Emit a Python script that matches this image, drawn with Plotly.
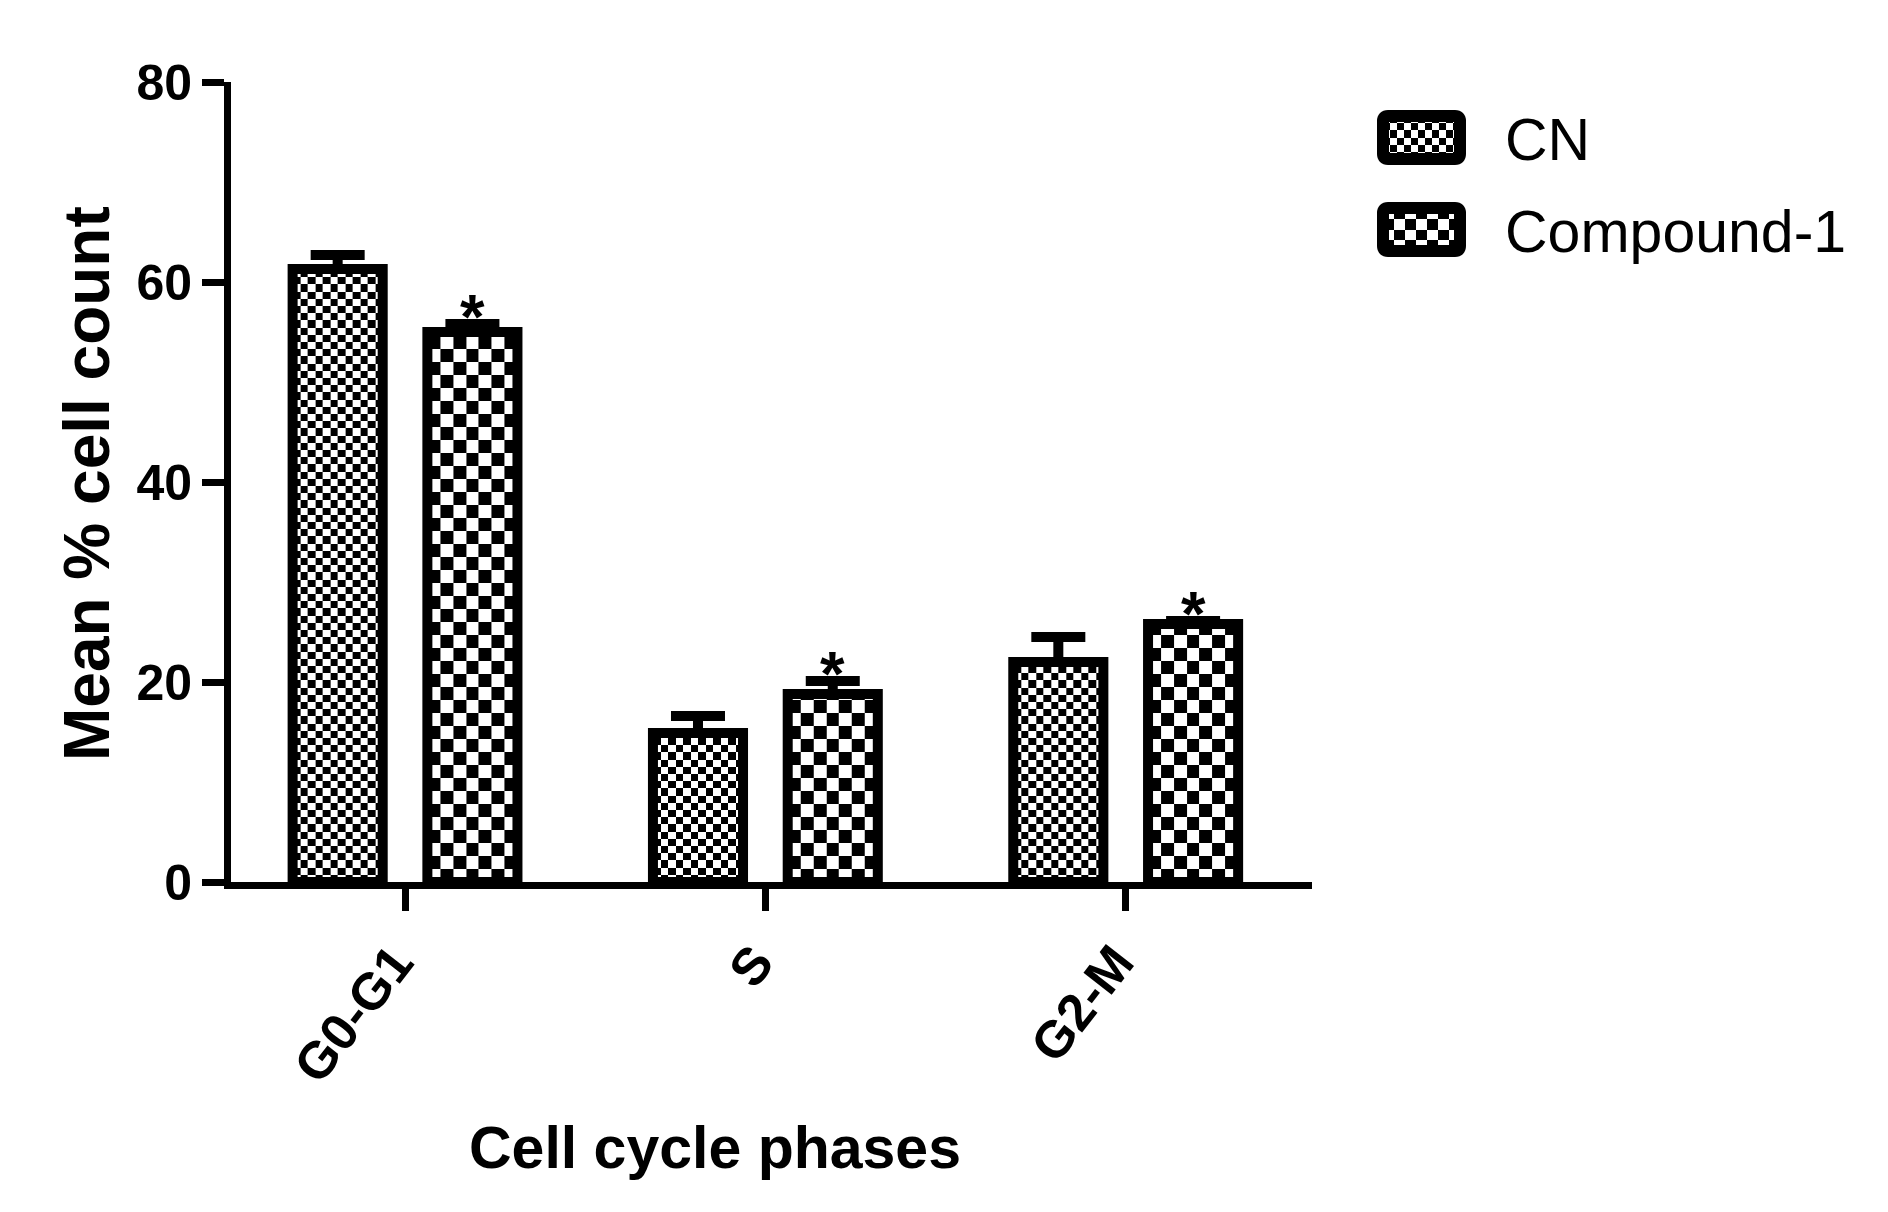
import numpy as np
import plotly.graph_objects as go

# ---------------- data ----------------
phases = ["G0-G1", "S", "G2-M"]
series_names = ["CN", "Compound-1"]
cn_mean = [61.3, 14.9, 22.0]
cn_err = [1.4, 1.7, 2.5]
cmp_mean = [55.0, 18.8, 25.8]
cmp_err = [0.8, 1.3, 0.3]
cmp_signif = ["*", "*", "*"]
y_tick_vals = [0, 20, 40, 60, 80]
x_title = "Cell cycle phases"
y_title = "Mean % cell count"

# ---------------- style / layout ----------------
W, H = 1888, 1212
PX_L, PX_R = 223, 1304
PX_T, PX_B = 74, 874
FONT = "Liberation Sans, Arial, sans-serif"
BAR_W = 0.25
BAR_OFF = 0.187
CELL_CN = (0.0205, 0.72)
CELL_CMP = (0.0357, 1.3)
LINE_W = 10


def checker(x0, x1, ytop, cw, ch):
    nx = max(1, int(round((x1 - x0) / cw)))
    xe = np.linspace(x0, x1, nx + 1)
    ye = list(np.arange(0, ytop, ch))
    if ytop - ye[-1] > 1e-9:
        ye.append(ytop)
    ny = len(ye) - 1
    z = [[(i + j) % 2 for i in range(nx)] for j in range(ny)]
    return xe, ye, z


fig = go.Figure()
cs = [[0, "white"], [1, "black"]]

groups = [
    (cn_mean, cn_err, -BAR_OFF, CELL_CN, series_names[0]),
    (cmp_mean, cmp_err, BAR_OFF, CELL_CMP, series_names[1]),
]

# checkerboard fills (computed from the bar values)
for means, errs, off, cell, name in groups:
    for i, v in enumerate(means):
        c = i + off
        xe, ye, z = checker(c - BAR_W / 2, c + BAR_W / 2, v, cell[0], cell[1])
        fig.add_trace(go.Heatmap(x=xe, y=ye, z=z, colorscale=cs, zmin=0, zmax=1,
                                 showscale=False, hoverinfo="skip", xaxis="x", yaxis="y"))

# bar outlines with error bars
for means, errs, off, cell, name in groups:
    fig.add_trace(go.Bar(
        x=[i + off for i in range(len(phases))], y=means, width=BAR_W, name=name,
        marker=dict(color="rgba(0,0,0,0)", line=dict(color="black", width=LINE_W)),
        error_y=dict(type="data", array=errs, arrayminus=[0] * len(errs), symmetric=False,
                     color="black", thickness=10, width=27),
        showlegend=False,
    ))

annotations = []
for i, s in enumerate(cmp_signif):
    if s:
        annotations.append(dict(x=i + BAR_OFF, y=cmp_mean[i] + cmp_err[i], xref="x", yref="y",
                                text=s, showarrow=False, yanchor="bottom", yshift=-29,
                                font=dict(family=FONT, size=63, color="black", weight="bold")))

annotations.append(dict(x=707 / W, y=(H - 1140) / H, xref="paper", yref="paper", text=x_title,
                        showarrow=False, xanchor="center", yanchor="middle",
                        font=dict(family=FONT, size=59, color="black", weight="bold")))
annotations.append(dict(x=79 / W, y=(H - 476) / H, xref="paper", yref="paper", text=y_title,
                        textangle=-90, showarrow=False, xanchor="center", yanchor="middle",
                        font=dict(family=FONT, size=64, color="black", weight="bold")))

# ---------------- legend (custom, large icons) ----------------
LEG_X0, LEG_X1 = 1369, 1458
LEG_BOXES = [(102, 157), (194, 249)]
LEG_TEXT_X = 1495
LEG_TEXT_Y = [132, 224]
LEG_CELLS = [7, 10.5]
LEG_BORDER = 12

shapes = []
for k, (y0, y1) in enumerate(LEG_BOXES):
    inset = LEG_BORDER / 2
    cwid = LEG_CELLS[k]
    nx = int(round((LEG_X1 - LEG_X0 - 2 * inset) / cwid))
    ny = int(round((y1 - y0 - 2 * inset) / cwid))
    xe = np.linspace(LEG_X0 + inset, LEG_X1 - inset, nx + 1)
    ye_ = np.linspace(y0 + inset, y1 - inset, ny + 1)
    z = [[(i + j) % 2 for i in range(nx)] for j in range(ny)]
    fig.add_trace(go.Heatmap(x=xe, y=ye_, z=z, colorscale=cs, zmin=0, zmax=1, showscale=False,
                             hoverinfo="skip", xaxis="x2", yaxis="y2"))
    a0, a1, b0, b1, r = LEG_X0 + inset, LEG_X1 - inset, y0 + inset, y1 - inset, 5
    path = (f"M{a0+r},{b0} L{a1-r},{b0} Q{a1},{b0} {a1},{b0+r} L{a1},{b1-r} Q{a1},{b1} {a1-r},{b1} "
            f"L{a0+r},{b1} Q{a0},{b1} {a0},{b1-r} L{a0},{b0+r} Q{a0},{b0} {a0+r},{b0} Z")
    shapes.append(dict(type="path", path=path, xref="x2", yref="y2",
                       line=dict(color="black", width=LEG_BORDER), layer="above"))
    annotations.append(dict(x=LEG_TEXT_X / W, y=(H - LEG_TEXT_Y[k]) / H, xref="paper", yref="paper",
                            text=series_names[k], showarrow=False, xanchor="left", yanchor="middle",
                            font=dict(family=FONT, size=59, color="black")))

ytickfont = dict(family=FONT, size=50, color="black", weight="bold")
xtickfont = dict(family=FONT, size=52, color="black", weight="bold")
fig.update_layout(
    width=W, height=H, margin=dict(l=0, r=0, t=0, b=0),
    paper_bgcolor="white", plot_bgcolor="white",
    barmode="overlay", showlegend=False,
    xaxis=dict(domain=[PX_L / W, PX_R / W], range=[-0.483, len(phases) - 0.483],
               tickvals=list(range(len(phases))), ticktext=phases, tickangle=-52,
               ticklabelshift=-10,
               ticks="outside", ticklen=22, tickwidth=7, tickcolor="black",
               showline=True, linewidth=7, linecolor="black", showgrid=False, zeroline=False,
               tickfont=xtickfont, automargin=False, anchor="y", fixedrange=True),
    yaxis=dict(domain=[(H - PX_B) / H, (H - PX_T) / H], range=[0, 80],
               tickvals=y_tick_vals, ticks="outside", ticklen=22, tickwidth=7, tickcolor="black",
               showline=True, linewidth=7, linecolor="black", showgrid=False, zeroline=False,
               tickfont=ytickfont, automargin=False, anchor="x", fixedrange=True),
    xaxis2=dict(domain=[LEG_X0 / W, LEG_X1 / W], range=[LEG_X0, LEG_X1], visible=False,
                anchor="y2", fixedrange=True),
    yaxis2=dict(domain=[(H - LEG_BOXES[1][1]) / H, (H - LEG_BOXES[0][0]) / H],
                range=[LEG_BOXES[1][1], LEG_BOXES[0][0]], visible=False, anchor="x2", fixedrange=True),
    annotations=annotations, shapes=shapes,
)

fig.write_html("out.html")
